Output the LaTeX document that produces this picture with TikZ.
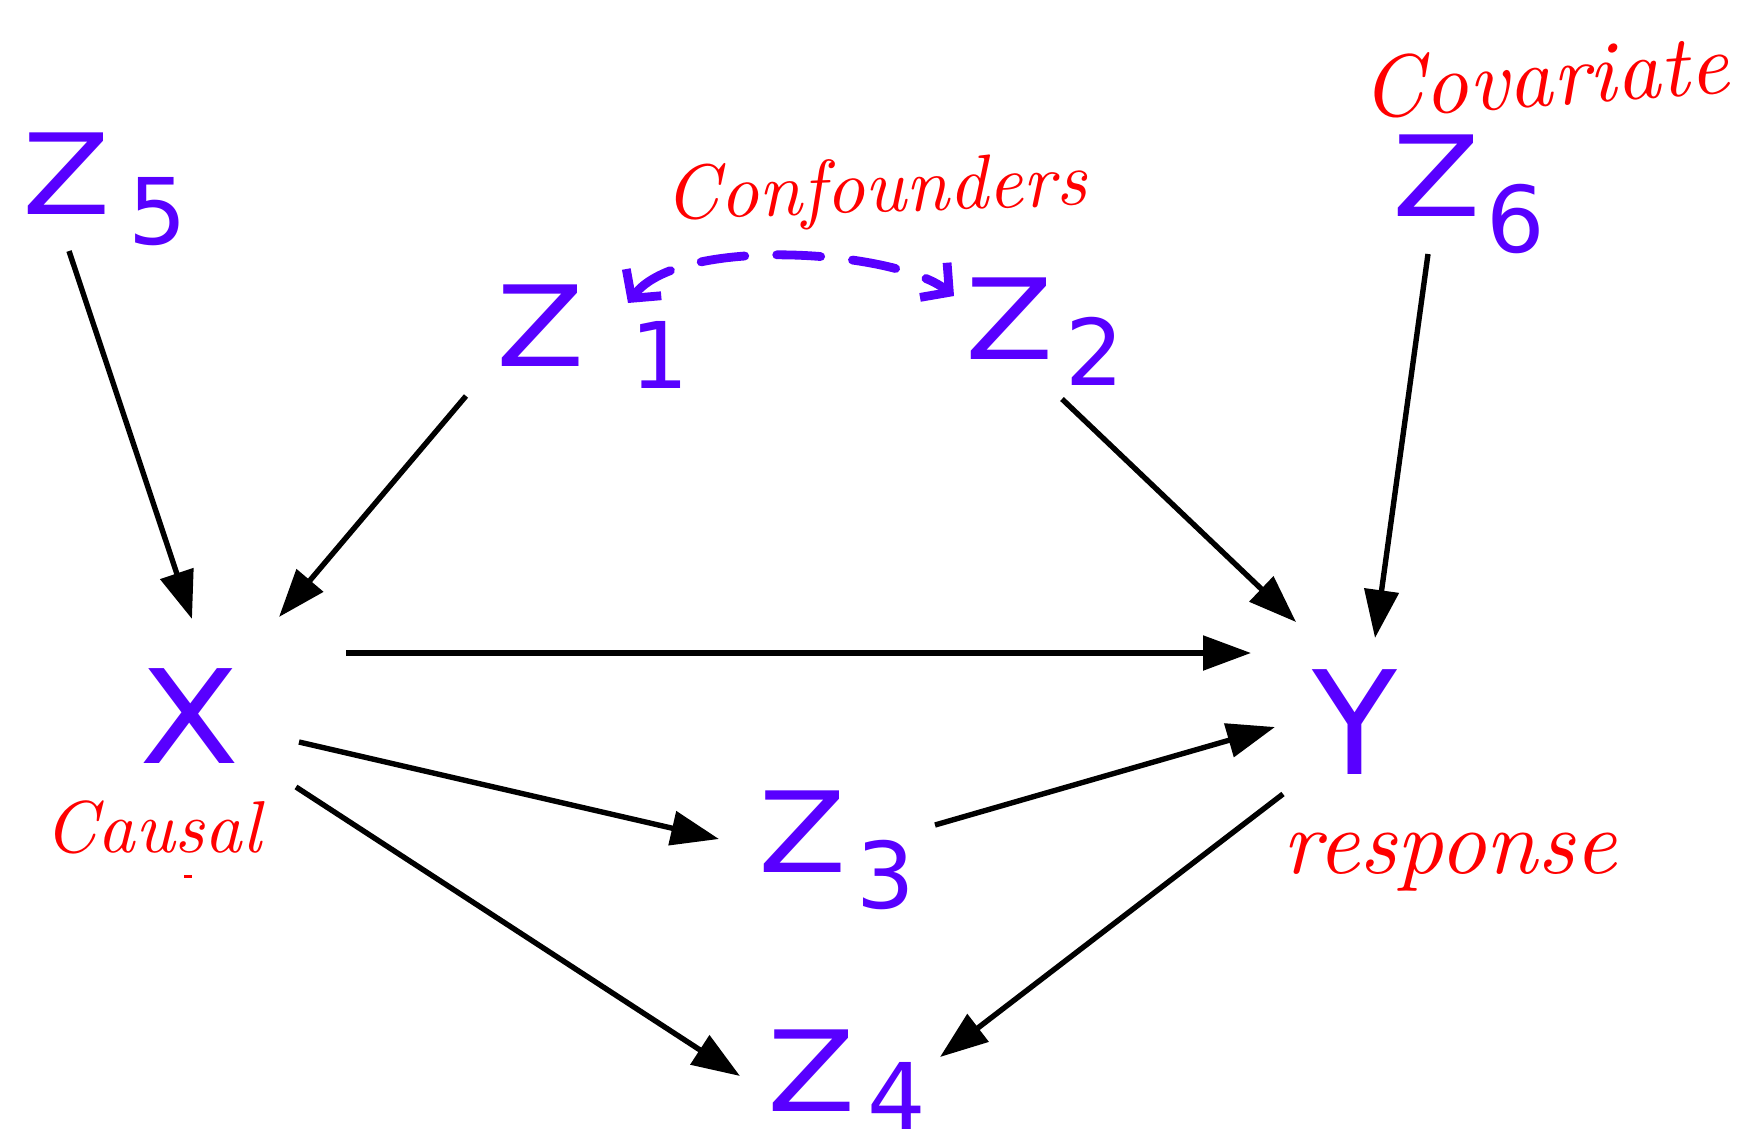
\documentclass[tikz,border=0pt]{standalone}
\usepackage{fontspec}
\usepackage{graphicx}
\usetikzlibrary{arrows.meta}
\newfontfamily\zfont{DejaVu Sans}
\definecolor{zblue}{RGB}{88,0,255}
\definecolor{lred}{RGB}{255,0,0}
% \zsub{gap}{lowering}{digit}
\newcommand{\zsub}[3]{\scalebox{1.15}[1]{Z}\hspace{#1}\raisebox{-#2}{\fontsize{46}{48}\selectfont #3}}
\begin{document}
\begin{tikzpicture}[x=0.5pt,y=-0.5pt,
  var/.style={text=zblue, font=\zfont\fontsize{56}{60}\selectfont, inner sep=0pt, anchor=base west},
  bigvar/.style={text=zblue, font=\zfont\fontsize{62}{66}\selectfont, inner sep=0pt},
  note/.style={text=lred, font=\itshape, inner sep=0pt},
  edge/.style={line width=2.7pt, -{Triangle[length=24pt,width=17pt]}},
  conf/.style={zblue, line width=4.4pt, dash pattern=on 22pt off 16pt, line cap=round,
    {Straight Barb[length=10pt,width=22pt,line width=4.4pt]}-{Straight Barb[length=10pt,width=22pt,line width=4.4pt]}}]
\path[fill=white, use as bounding box] (0,0) rectangle (1749,1145);

% variables
\node[var] (Z5) at (22,214) {\zsub{9pt}{15pt}{5}};
\node[var] (Z1) at (496,366) {\zsub{23pt}{11pt}{1}};
\node[var] (Z2) at (965,359) {\zsub{6pt}{13pt}{2}};
\node[var] (Z6) at (1392,216) {\zsub{3pt}{18pt}{6}};
\node[var] (Z3) at (758,872) {\zsub{5pt}{18pt}{3}};
\node[var] (Z4) at (767,1111) {\zsub{6pt}{9pt}{4}};
\node[bigvar] (X) at (190,716) {\scalebox{1.18}[1.05]{X}};
\node[bigvar] (Y) at (1355,722) {\scalebox{1.12}[1.16]{Y}};

% notes
\node[note, rotate=4] (cov) at (1545,76) {\resizebox{184pt}{!}{Covariate}};
\node[note, rotate=2] (conf) at (876,193) {\resizebox{211pt}{!}{Confounders}};
\node[note] (causal) at (153,827) {\resizebox{108pt}{!}{Causal}};
\node[note] (resp) at (1450,862) {\resizebox{167pt}{!}{response}};
\draw[lred, line width=1.5pt] ([shift={(31,49)}]causal.center) -- ([shift={(39,49)}]causal.center);

% edges
\draw[edge] ([shift={(47,37)}]Z5.base west) -- ([shift={(2,-97)}]X.center);
\draw[edge] ([shift={(-30,30)}]Z1.base west) -- ([shift={(89,-99)}]X.center);
\draw[edge] ([shift={(97,40)}]Z2.base west) -- ([shift={(-59,-100)}]Y.center);
\draw[edge] ([shift={(36,38)}]Z6.base west) -- ([shift={(20,-84)}]Y.center);
\draw[edge] ([shift={(156,-63)}]X.center) -- ([shift={(-104,-69)}]Y.center);
\draw[edge] ([shift={(109,26)}]X.center) -- ([shift={(-39,-33)}]Z3.base west);
\draw[edge] ([shift={(177,-47)}]Z3.base west) -- ([shift={(-80,5)}]Y.center);
\draw[edge] ([shift={(106,71)}]X.center) -- ([shift={(-27,-35)}]Z4.base west);
\draw[edge] ([shift={(-72,72)}]Y.center) -- ([shift={(173,-54)}]Z4.base west);

% confounding arc
\draw[conf] ([shift={(132,-63)}]Z1.base west)
  .. controls ([shift={(184,-131)}]Z1.base west) and ([shift={(-70,-109)}]Z2.base west)
  .. ([shift={(-11,-63)}]Z2.base west);
\end{tikzpicture}
\end{document}
